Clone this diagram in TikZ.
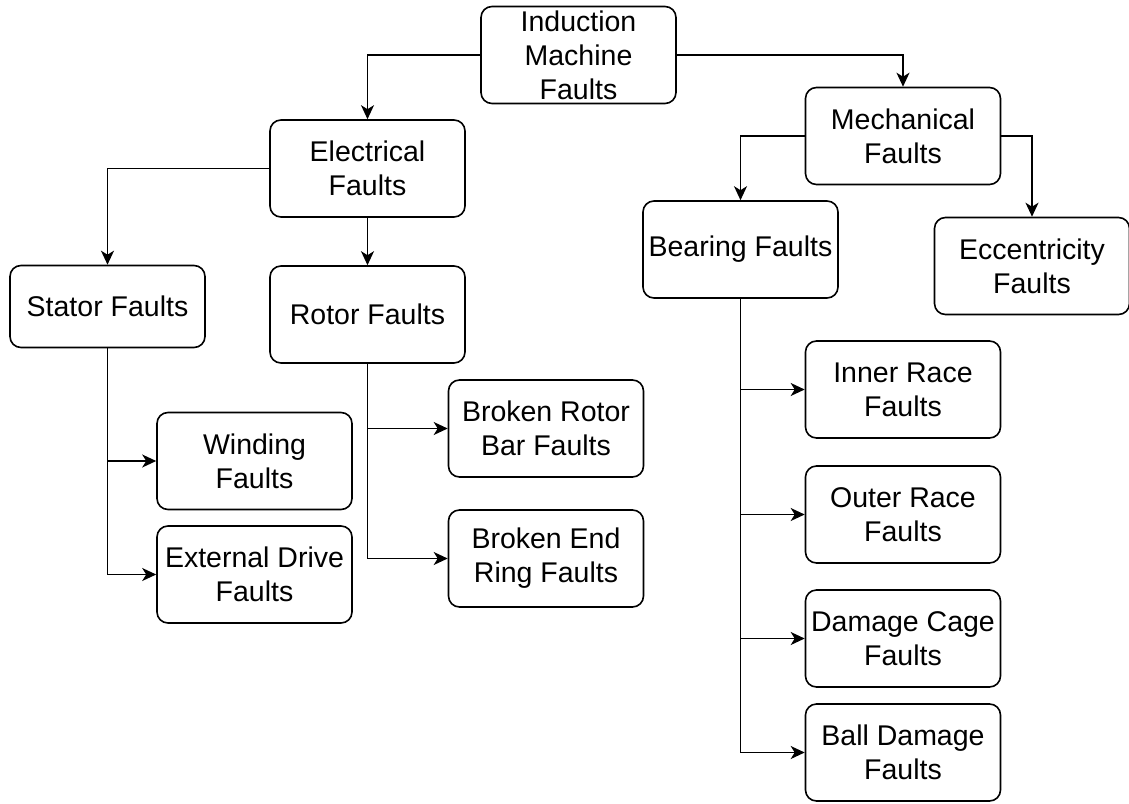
\documentclass[tikz,border=0pt]{standalone}
\usepackage{fontspec}
\setmainfont{Liberation Sans}
\usetikzlibrary{arrows.meta,positioning}

\begin{document}
\begin{tikzpicture}[x=1pt,y=-1pt,
  box/.style={draw, line width=1.6pt, rounded corners=11pt, fill=white,
    minimum width=195pt, minimum height=97pt, inner sep=2pt, align=center,
    font=\fontsize{28.5}{34}\selectfont},
  arr/.style={line width=1.6pt, -{Stealth[length=14pt,width=13pt,inset=4pt]}}]
\useasboundingbox (0,0) rectangle (1129,803);
% Top level
\node[box] (ind) at (578.5,55) {Induction\\Machine\\Faults};
\node[box] (ele) at (367.5,168.5) {Electrical\\Faults};
\node[box] (mech) at (903,136) {Mechanical\\Faults};
% Electrical branch
\node[box, minimum height=82pt] (stat) at (107.5,306.5) {Stator Faults};
\node[box] (rot) at (367.5,314.5) {Rotor Faults};
\node[box] (wind) at (254.5,461) {Winding\\Faults};
\node[box] (ext) at (254.5,574.5) {External Drive\\Faults};
\node[box] (brb) at (546,428.5) {Broken Rotor\\Bar Faults};
\node[box] (ber) at (546,558.5) {Broken End\\Ring Faults};
% Mechanical branch
\node[box] (bear) at (740.5,249.5) {Bearing Faults};
\node[box] (ecc) at (1032,266) {Eccentricity\\Faults};
\node[box] (inr) at (903,389.5) {Inner Race\\Faults};
\node[box] (outr) at (903,514.5) {Outer Race\\Faults};
\node[box] (cage) at (903,638.5) {Damage Cage\\Faults};
\node[box] (ball) at (903,752.5) {Ball Damage\\Faults};
% Connectors
\draw[arr] (ind.west) -| (ele.north);
\draw[arr] (ind.east) -| (mech.north);
\draw[arr] (ele.west) -| (stat.north);
\draw[arr] (ele.south) -- (rot.north);
\draw[arr] (mech.west) -| (bear.north);
\draw[arr] (mech.east) -| (ecc.north);
\foreach \t in {wind,ext} {
  \draw[arr] (stat.south) |- (\t.west);
}
\foreach \t in {brb,ber} {
  \draw[arr] (rot.south) |- (\t.west);
}
\foreach \t in {inr,outr,cage,ball} {
  \draw[arr] (bear.south) |- (\t.west);
}
\end{tikzpicture}
\end{document}
